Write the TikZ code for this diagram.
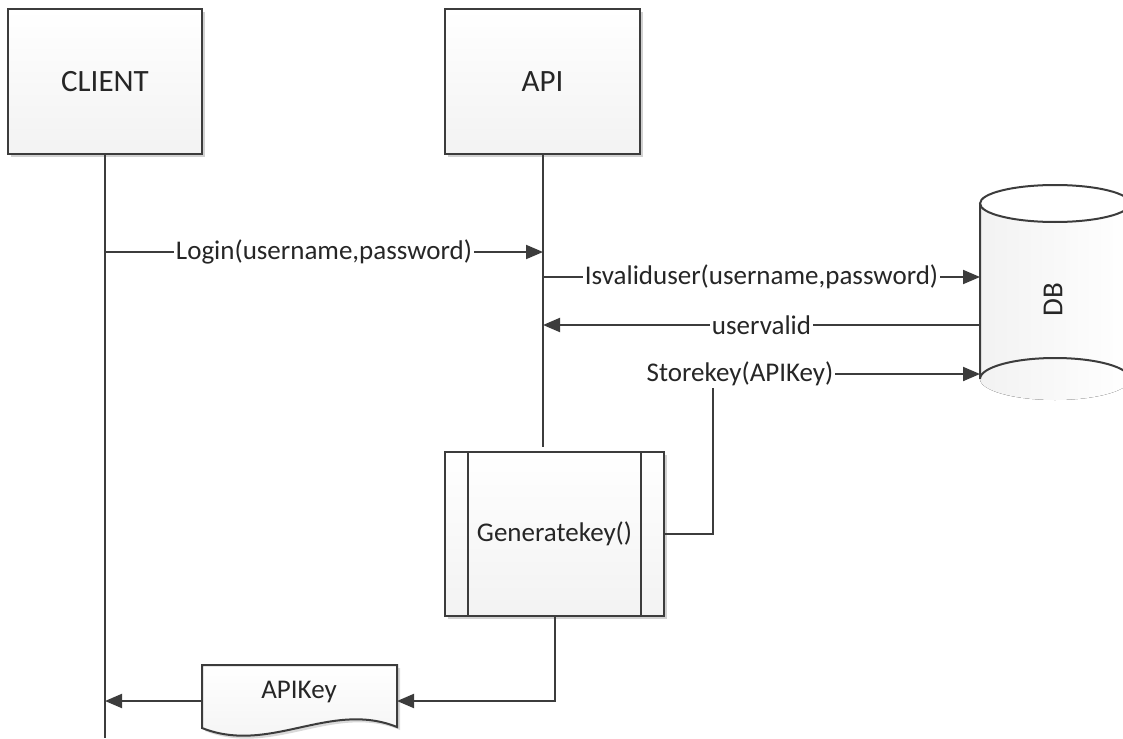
\documentclass[tikz,border=0pt]{standalone}
\usepackage{fontspec}
\setmainfont{Carlito}
\usetikzlibrary{arrows.meta,shadows,calc}
\definecolor{ink}{HTML}{3C3C3C}
\definecolor{txt}{HTML}{262626}

\begin{document}
\begin{tikzpicture}[x=1pt,y=-1pt,
  softshadow/.style={drop shadow={shadow xshift=3pt,shadow yshift=-3pt,opacity=0.18,fill=black}},
  lifebox/.style={draw=ink,line width=2pt,minimum width=194pt,minimum height=145pt,
    top color=white,bottom color=gray!10,softshadow,
    font=\fontsize{31}{36}\selectfont,text=txt,inner sep=0pt},
  procbox/.style={draw=ink,line width=2pt,minimum width=219pt,minimum height=164pt,
    top color=white,bottom color=gray!10,softshadow,
    font=\fontsize{27}{32}\selectfont,text=txt,inner sep=0pt},
  plain/.style={draw=ink,line width=2pt},
  flow/.style={plain,-{Triangle[length=17pt,width=14pt]}},
  lbl/.style={fill=white,inner sep=1.5pt,font=\fontsize{27}{32}\selectfont,text=txt},
]
\useasboundingbox (0,0) rectangle (1123,738);

% lifeline heads
\node[lifebox] (client) at (105,81.5) {CLIENT};
\node[lifebox,minimum width=195pt] (api) at (542.5,81.5) {API};

% lifelines
\coordinate (cEnd) at (105,738);
\coordinate (aEnd) at (543,447);
\draw[plain] (client.south) -- (cEnd);
\draw[plain] (api.south -| aEnd) -- (aEnd);

% database cylinder (right part runs off the page)
\begin{scope}
  \clip (0,0) rectangle (1123,738);
  \fill[left color=gray!10,right color=white,shading angle=90]
    (980,203.5) arc[start angle=180,end angle=360,x radius=75,y radius=18.5]
    -- (1130,379) arc[start angle=0,end angle=180,x radius=75,y radius=21] -- cycle;
  \fill[white] (1055,203.5) ellipse[x radius=75,y radius=18.5];
  \draw[plain] (1055,203.5) ellipse[x radius=75,y radius=18.5];
  \draw[plain] (980,203.5) -- (980,379)
    arc[start angle=180,end angle=360,x radius=75,y radius=21] -- (1130,203.5);
\end{scope}
\node[rotate=90,font=\fontsize{29}{34}\selectfont,text=txt] (db) at (1053,300) {DB};
\coordinate (db1) at (980,277);
\coordinate (db2) at (980,325);
\coordinate (db3) at (980,374);

% message anchors on the lifelines
\coordinate (c1) at (105,252);
\coordinate (a1) at (543,252);
\coordinate (a2) at (543,277);
\coordinate (a3) at (543,325);
\coordinate (c2) at (105,701);

% messages
\draw[flow] (c1) -- node[lbl] {Login(username,password)} (a1);
\draw[flow] (a2) -- node[lbl] {Isvaliduser(username,password)} (db1);
\draw[flow] (db2) -- node[lbl] {uservalid} (a3);

% key generation process
\node[procbox] (gen) at (554.5,534) {Generatekey()};
\draw[plain] ([xshift=24pt]gen.north west) -- ([xshift=24pt]gen.south west);
\draw[plain] ([xshift=-24pt]gen.north east) -- ([xshift=-24pt]gen.south east);

% store the key
\coordinate (sk) at (713,374);
\draw[flow] (gen.east) -| (sk) -- (db3);
\node[lbl] (store) at (740,374) {Storekey(APIKey)};

% returned key document
\coordinate (keyR) at (397,701);
\coordinate (keyL) at (202,701);
\fill[black,opacity=0.15] (205,668) -- (400,668) -- (400,730)
  .. controls (333,703) and (273,758) .. (205,731) -- cycle;
\draw[plain,top color=white,bottom color=gray!10]
  (202,665) -- (397,665) -- (397,727)
  .. controls (330,700) and (270,755) .. (202,728) -- cycle;
\node[lbl,fill=none] (key) at (299,692) {APIKey};

\draw[flow] (gen.south) |- (keyR);
\draw[flow] (keyL) -- (c2);
\end{tikzpicture}
\end{document}
